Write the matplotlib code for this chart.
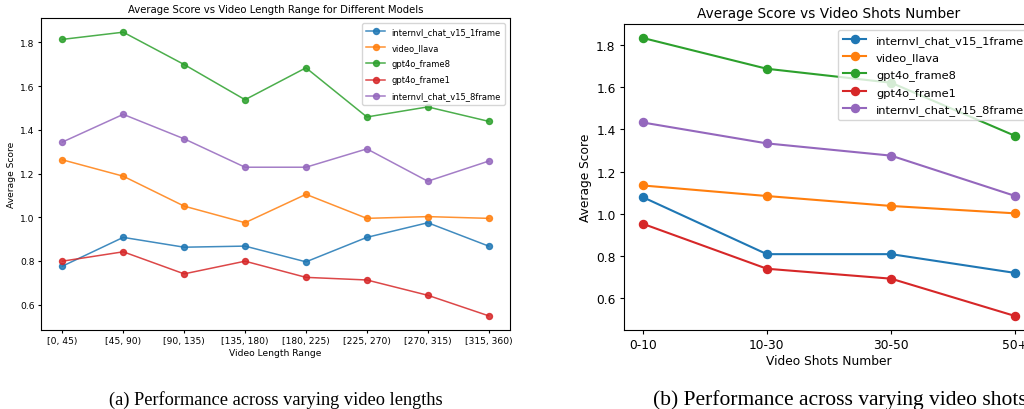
import matplotlib
matplotlib.use("Agg")
import matplotlib.pyplot as plt

MODELS = ["internvl_chat_v15_1frame", "video_llava", "gpt4o_frame8",
          "gpt4o_frame1", "internvl_chat_v15_8frame"]
COLORS = ["tab:blue", "tab:orange", "tab:green", "tab:red", "tab:purple"]

# (a) по длине видео
LEN_RANGES = ["[0, 45)", "[45, 90)", "[90, 135)", "[135, 180)",
              "[180, 225)", "[225, 270)", "[270, 315)", "[315, 360)"]
len_internvl_1 = [0.776, 0.908, 0.863, 0.868, 0.796, 0.908, 0.975, 0.868]
len_video_llava = [1.263, 1.188, 1.051, 0.975, 1.105, 0.995, 1.003, 0.995]
len_gpt4o_8 = [1.814, 1.847, 1.699, 1.538, 1.684, 1.459, 1.505, 1.439]
len_gpt4o_1 = [0.799, 0.842, 0.741, 0.799, 0.725, 0.713, 0.643, 0.549]
len_internvl_8 = [1.344, 1.471, 1.359, 1.229, 1.229, 1.313, 1.165, 1.257]

# (b) по числу шотов
SHOT_BINS = ["0-10", "10-30", "30-50", "50+"]
shot_internvl_1 = [1.079, 0.809, 0.809, 0.720]
shot_video_llava = [1.134, 1.084, 1.037, 1.002]
shot_gpt4o_8 = [1.832, 1.686, 1.620, 1.368]
shot_gpt4o_1 = [0.953, 0.740, 0.693, 0.516]
shot_internvl_8 = [1.432, 1.333, 1.275, 1.084]

len_series = [len_internvl_1, len_video_llava, len_gpt4o_8, len_gpt4o_1, len_internvl_8]
shot_series = [shot_internvl_1, shot_video_llava, shot_gpt4o_8, shot_gpt4o_1, shot_internvl_8]

fig = plt.figure(figsize=(10.24, 4.1), dpi=100)
W, H = 1024, 410


def px_axes(x0, y0, x1, y1):
    return fig.add_axes([x0 / W, 1 - y1 / H, (x1 - x0) / W, (y1 - y0) / H])


# левая панель (мельче шрифты — исходно была уменьшена)
ax1 = px_axes(41, 19, 510, 331)
for name, vals, c in zip(MODELS, len_series, COLORS):
    ax1.plot(LEN_RANGES, vals, marker="o", color=c, alpha=0.85, lw=1.1, ms=4.3, label=name)
ax1.set_title("Average Score vs Video Length Range for Different Models", fontsize=7.3, pad=4)
ax1.set_xlabel("Video Length Range", fontsize=6.6, labelpad=2)
ax1.set_ylabel("Average Score", fontsize=6.6, labelpad=3)
ax1.tick_params(labelsize=6.6, length=2.5, pad=2)
ax1.legend(loc="upper right", fontsize=6.0, handlelength=2.2, borderpad=0.5, labelspacing=0.85,
           borderaxespad=0.6)

# правая панель (выходит за правый край кадра)
ax2 = px_axes(624, 25, 1034, 331)
for name, vals, c in zip(MODELS, shot_series, COLORS):
    ax2.plot(SHOT_BINS, vals, marker="o", color=c, lw=1.5, ms=5.8, label=name)
ax2.set_title("Average Score vs Video Shots Number", fontsize=9.8, pad=5)
ax2.set_xlabel("Video Shots Number", fontsize=8.8, labelpad=2)
ax2.set_ylabel("Average Score", fontsize=8.8, labelpad=3)
ax2.tick_params(labelsize=8.8, length=3, pad=3)
ax2.legend(loc="upper left", bbox_to_anchor=((838 - 624) / 410, 1 - 6 / 306), borderaxespad=0,
           fontsize=8.2, handlelength=2.0, borderpad=0.45, labelspacing=0.55, handletextpad=0.9)

fig.text(276 / W, 1 - 400 / H, "(a) Performance across varying video lengths",
         family="Liberation Serif", fontsize=13.2, ha="center", va="center")
fig.text(653 / W, 1 - 400 / H, "(b) Performance across varying video shots",
         family="Liberation Serif", fontsize=15.5, ha="left", va="center")

fig.savefig("out.png", dpi=100)
